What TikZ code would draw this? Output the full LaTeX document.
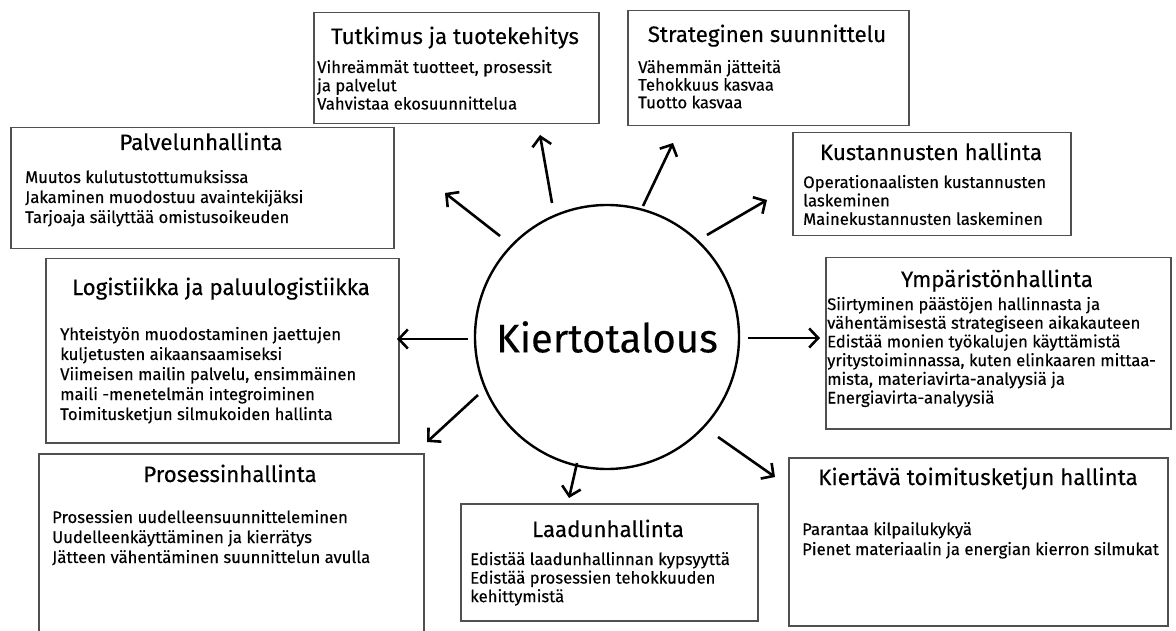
\documentclass[tikz,border=0pt]{standalone}
\usepackage{fontspec}
\setmainfont{Fira Sans}
\newfontfamily\bodyfont[FakeBold=0.3]{Fira Sans}
\newfontfamily\headfont[FakeBold=0.2]{Fira Sans}
\usetikzlibrary{arrows.meta}
\definecolor{boxgray}{HTML}{505050}
\newcommand\bodylines[1]{\begin{tabular}[t]{@{}l@{}}#1\end{tabular}}
\begin{document}
\begin{tikzpicture}[x=1pt,y=-1pt,
  panel/.style={draw=boxgray, line width=1.5pt, inner sep=0pt, anchor=north west, rectangle},
  ttl/.style={anchor=base, inner sep=0pt, font=\headfont\fontsize{22.3}{26}\selectfont},
  txt/.style={anchor=base west, inner sep=0pt, font=\bodyfont\fontsize{16.7}{#1}\selectfont},
  arr/.style={line width=2.6pt, -{Straight Barb[length=9pt,width=19pt]}}]
\useasboundingbox (0,0) rectangle (1176,631);
\fill[white] (0,0) rectangle (1176,631);
\clip (0,0) rectangle (1176,631);

% central circle
\node[draw, circle, line width=2.4pt, minimum size=264pt, inner sep=0pt,
      font=\headfont\fontsize{40}{44}\selectfont] (K) at (607,337) {Kiertotalous};

% Palvelunhallinta
\node[panel, minimum width=383pt, minimum height=121pt] (p1) at (10,127) {};
\node[ttl] (p1t) at (201,150) {Palvelunhallinta};
\node[txt=20] (p1b) at (25,183) {\bodylines{Muutos kulutustottumuksissa\\Jakaminen muodostuu avaintekijäksi\\Tarjoaja säilyttää omistusoikeuden}};

% Tutkimus ja tuotekehitys
\node[panel, minimum width=285pt, minimum height=111pt] (p2) at (313,12) {};
\node[ttl] (p2t) at (455,44) {Tutkimus ja tuotekehitys};
\node[txt=17.5] (p2b) at (317,73) {\bodylines{Vihreämmät tuotteet, prosessit\\ja palvelut\\Vahvistaa ekosuunnittelua}};

% Strateginen suunnittelu
\node[panel, minimum width=281pt, minimum height=115pt] (p3) at (627,10) {};
\node[ttl] (p3t) at (767,42) {Strateginen suunnittelu};
\node[txt=17] (p3b) at (638,73) {\bodylines{Vähemmän jätteitä\\Tehokkuus kasvaa\\Tuotto kasvaa}};

% Kustannusten hallinta
\node[panel, minimum width=278pt, minimum height=103pt] (p4) at (792,132) {};
\node[ttl] (p4t) at (931,160) {Kustannusten hallinta};
\node[txt=18] (p4b) at (803,188) {\bodylines{Operationaalisten kustannusten\\laskeminen\\Mainekustannusten laskeminen}};

% Ympäristönhallinta
\node[panel, minimum width=345pt, minimum height=171pt] (p5) at (825,257) {};
\node[ttl] (p5t) at (997,287) {Ympäristönhallinta};
\node[txt=18.7] (p5b) at (827,310) {\bodylines{Siirtyminen päästöjen hallinnasta ja\\vähentämisestä strategiseen aikakauteen\\Edistää monien työkalujen käyttämistä\\yritystoiminnassa, kuten elinkaaren mittaa-\\mista, materiavirta-analyysiä ja\\Energiavirta-analyysiä}};

% Logistiikka ja paluulogistiikka
\node[panel, minimum width=353pt, minimum height=184pt] (p6) at (45,258) {};
\node[ttl] (p6t) at (221,295) {Logistiikka ja paluulogistiikka};
\node[txt=20] (p6b) at (60,340) {\bodylines{Yhteistyön muodostaminen jaettujen\\kuljetusten aikaansaamiseksi\\Viimeisen mailin palvelu, ensimmäinen\\maili -menetelmän integroiminen\\Toimitusketjun silmukoiden hallinta}};

% Prosessinhallinta
\node[panel, minimum width=385pt, minimum height=200pt] (p7) at (38,453) {};
\node[ttl] (p7t) at (230,482) {Prosessinhallinta};
\node[txt=20] (p7b) at (52,523) {\bodylines{Prosessien uudelleensuunnitteleminen\\Uudelleenkäyttäminen ja kierrätys\\Jätteen vähentäminen suunnittelun avulla}};

% Laadunhallinta
\node[panel, minimum width=297pt, minimum height=117pt] (p8) at (460,503) {};
\node[ttl] (p8t) at (608,537) {Laadunhallinta};
\node[txt=18.5] (p8b) at (470,565) {\bodylines{Edistää laadunhallinnan kypsyyttä\\Edistää prosessien tehokkuuden\\kehittymistä}};

% Kiertävä toimitusketjun hallinta
\node[panel, minimum width=379pt, minimum height=168pt] (p9) at (788,457) {};
\node[ttl] (p9t) at (978,485) {Kiertävä toimitusketjun hallinta};
\node[txt=20] (p9b) at (802,535) {\bodylines{Parantaa kilpailukykyä\\Pienet materiaalin ja energian kierron silmukat}};

% arrow ends around the circle
\coordinate (s1) at (500,236); \coordinate (e1) at (445,193);
\coordinate (s2) at (552,203); \coordinate (e2) at (540,135);
\coordinate (s3) at (643,206); \coordinate (e3) at (673,143);
\coordinate (s4) at (707,235); \coordinate (e4) at (767,200);
\coordinate (s5) at (748,338); \coordinate (e5) at (820,338);
\coordinate (s6) at (468,339); \coordinate (e6) at (397,339);
\coordinate (s7) at (478,395); \coordinate (e7) at (427,442);
\coordinate (s8) at (718,437); \coordinate (e8) at (775,477);
\coordinate (s9) at (577,463); \coordinate (e9) at (569,498);
\foreach \i in {1,...,9} \draw[arr] (s\i) -- (e\i);
\end{tikzpicture}
\end{document}
